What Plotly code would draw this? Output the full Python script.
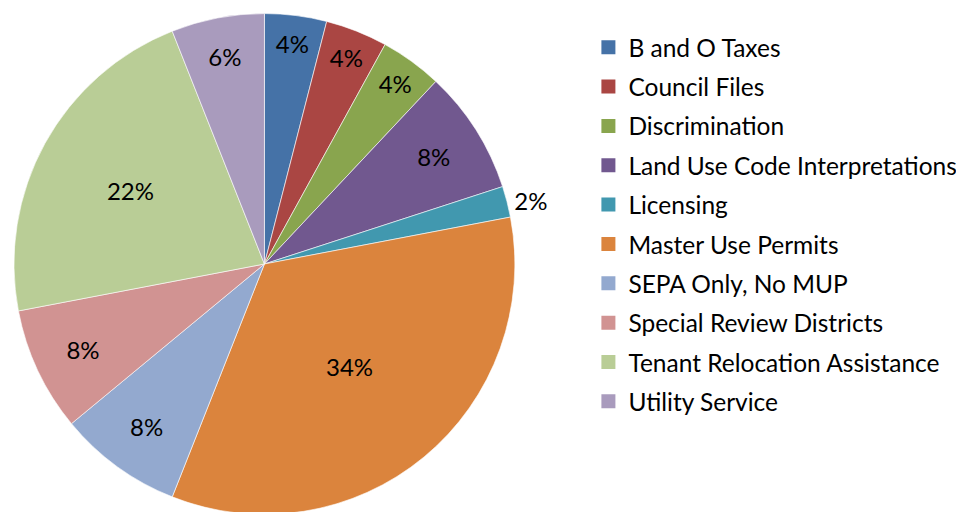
import plotly.graph_objects as go

categories = ["B and O Taxes", "Council Files", "Discrimination", "Land Use Code Interpretations",
              "Licensing", "Master Use Permits", "SEPA Only, No MUP", "Special Review Districts",
              "Tenant Relocation Assistance", "Utility Service"]
counts = [2, 2, 2, 4, 1, 17, 4, 4, 11, 3]
colors = ["#4572A7", "#AA4643", "#89A54E", "#71588F", "#4198AF",
          "#DB843D", "#93A9CF", "#D19392", "#B9CD96", "#A99BBD"]
text_positions = ["inside", "inside", "inside", "inside", "outside",
                  "inside", "inside", "inside", "inside", "inside"]

W, H = 964, 512
FONT = "Lato, Open Sans, sans-serif"
fig = go.Figure()
fig.add_trace(go.Pie(
    labels=categories, values=counts, sort=False, direction="clockwise", rotation=0,
    marker=dict(colors=colors, line=dict(color="white", width=0.6)),
    textinfo="percent", texttemplate="%{percent:.0%}",
    textposition=text_positions, insidetextorientation="horizontal",
    textfont=dict(family=FONT, size=24, color="black"),
    domain=dict(x=[0, 504 / W], y=[0, 1]),
    showlegend=False, hoverinfo="label+percent",
))
# legend entries (one group per category for spacing)
for name, col in zip(categories, colors):
    fig.add_trace(go.Scatter(
        x=[None], y=[None], mode="markers", name=name, legendgroup=name,
        marker=dict(symbol="square", size=14, color=col), showlegend=True,
    ))
fig.update_xaxes(visible=False)
fig.update_yaxes(visible=False)
fig.update_layout(
    width=W, height=H, margin=dict(l=0, r=0, t=0, b=0),
    paper_bgcolor="white", plot_bgcolor="white",
    font=dict(family=FONT, size=24.5, color="black"),
    uniformtext=dict(minsize=24, mode="show"),
    legend=dict(x=578 / W, y=1 - 12 / H, xanchor="left", yanchor="top",
                font=dict(size=24.5), tracegroupgap=4.5, itemwidth=30,
                bgcolor="rgba(0,0,0,0)"),
)
fig.write_html("out.html")
